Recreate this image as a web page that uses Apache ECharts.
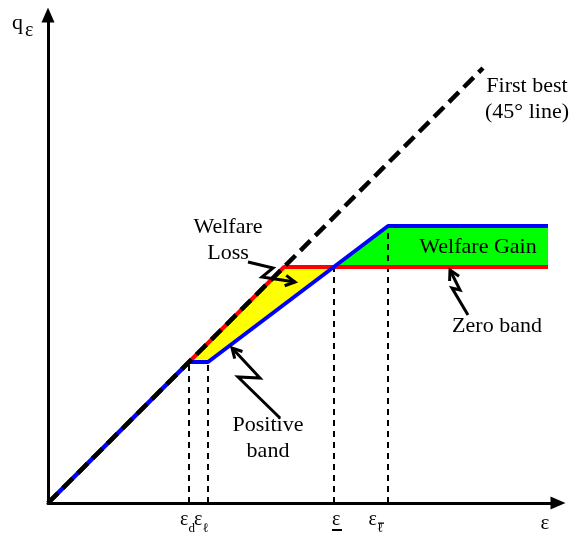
<!DOCTYPE html>
<html><head><meta charset="utf-8">
<script src="https://cdn.jsdelivr.net/npm/echarts@6/dist/echarts.min.js"></script>
<style>html,body{margin:0;padding:0;background:#fff}#c{width:570px;height:535px}</style>
</head><body><div id="c"></div>
<script>
// ---- data (arbitrary units of a conceptual diagram) ----
const tickValues = [141, 160, 286, 340];            // εd, εℓ, ε (underlined), εℓ̄
const tickSubscripts = ['d', 'ℓ', '', 'ℓ'];
const tickDecorations = ['', '', 'underline', 'overbar'];
const guideHeights = [141, 141, 236, 277];
const firstBest = [[0, 0], [435, 435]];
const zeroBand = [[0, 0], [236, 236], [500, 236]];
const positiveBand = [[0, 0], [141, 141], [160, 141], [340, 277], [500, 277]];
const welfareLoss = [[141, 141], [236, 236], [286, 236], [160, 141]];
const welfareGain = [[286, 236], [340, 277], [500, 277], [500, 236]];
const calloutLoss = [[200, 241], [225, 235], [214, 226], [247, 221]];
const calloutPositive = [[232, 85], [190, 126], [212, 125], [184, 155]];
const calloutZero = [[420, 188], [404, 215], [412, 213], [402, 233]];
const noteTexts = ['Welfare\nLoss', 'Welfare Gain', 'Zero band', 'Positive\nband', 'First best\n(45° line)'];
const noteAnchors = [[180, 263], [430, 256], [449, 177], [220, 64.5], [479, 403.5]];
const yTitle = ['q', 'ε'];

const FONT = "'Liberation Serif','Times New Roman',serif";

function polygonSeries(points, color) {
  return {
    type: 'custom', data: points, z: 1, silent: true, animation: false,
    renderItem(params, api) {
      if (params.dataIndex !== 0) return null;
      return { type: 'polygon', shape: { points: points.map(p => api.coord(p)) }, style: { fill: color } };
    }
  };
}
function calloutSeries(points) {
  return {
    type: 'custom', data: points, z: 6, silent: true, animation: false,
    renderItem(params, api) {
      if (params.dataIndex !== 0) return null;
      const px = points.map(p => api.coord(p));
      const tip = px[px.length - 1], prev = px[px.length - 2];
      const ang = Math.atan2(prev[1] - tip[1], prev[0] - tip[0]);
      const L = 11, a = 0.5;
      const arm1 = [tip[0] + L * Math.cos(ang + a), tip[1] + L * Math.sin(ang + a)];
      const arm2 = [tip[0] + L * Math.cos(ang - a), tip[1] + L * Math.sin(ang - a)];
      return {
        type: 'group', children: [
          { type: 'polyline', shape: { points: px }, style: { stroke: '#000', lineWidth: 3, fill: null, lineJoin: 'miter' } },
          { type: 'polyline', shape: { points: [arm1, tip, arm2] }, style: { stroke: '#000', lineWidth: 3, fill: null } }
        ]
      };
    }
  };
}
function txt(text, x, y, size) {
  return { type: 'text', style: { text, x, y, align: 'left', verticalAlign: 'middle', fontFamily: FONT, fontSize: size, fill: '#000' } };
}

const labelShift = [-9, -14, -2, -19.5];

const chart = echarts.init(document.getElementById('c'), null, { renderer: 'canvas' });
const option = {
  animation: false,
  backgroundColor: '#fff',
  grid: { left: 48, right: 12, top: 15, bottom: 32, outerBoundsMode: 'none', containLabel: false },
  xAxis: {
    type: 'value', min: 0, max: 510,
    name: 'ε', nameLocation: 'end', nameGap: -13,
    nameTextStyle: { fontFamily: FONT, fontSize: 21, color: '#000', align: 'center', verticalAlign: 'top', padding: [10, 0, 0, 0] },
    axisLine: { show: true, symbol: ['none', 'triangle'], symbolSize: [13, 15], lineStyle: { color: '#000', width: 3 } },
    axisTick: { show: false }, splitLine: { show: false }, axisLabel: { show: false }
  },
  yAxis: {
    type: 'value', min: 0, max: 488,
    axisLine: { show: true, symbol: ['none', 'triangle'], symbolSize: [13, 15], lineStyle: { color: '#000', width: 3 } },
    axisTick: { show: false }, splitLine: { show: false }, axisLabel: { show: false }
  },
  series: [
    polygonSeries(welfareLoss, '#FFFF00'),
    polygonSeries(welfareGain, '#00FF00'),
    {
      type: 'custom', z: 2, silent: true,
      data: tickValues.map((v, i) => [v, guideHeights[i]]),
      renderItem(params, api) {
        const p0 = api.coord([api.value(0), 0]);
        const p1 = api.coord([api.value(0), api.value(1)]);
        return { type: 'line', shape: { x1: p0[0], y1: p0[1], x2: p1[0], y2: p1[1] }, style: { stroke: '#000', lineWidth: 2, lineDash: [6, 5] } };
      }
    },
    { type: 'line', data: zeroBand, symbol: 'none', z: 3, lineStyle: { color: '#FF0000', width: 4 } },
    { type: 'line', data: positiveBand, symbol: 'none', z: 4, lineStyle: { color: '#0000FF', width: 4 } },
    { type: 'line', data: firstBest, symbol: 'none', z: 5, lineStyle: { color: '#000', width: 4.5, type: [14, 7] } },
    calloutSeries(calloutLoss),
    calloutSeries(calloutPositive),
    calloutSeries(calloutZero),
    {
      type: 'custom', z: 7, silent: true, data: noteAnchors,
      renderItem(params, api) {
        const p = api.coord([api.value(0), api.value(1)]);
        return { type: 'text', style: { text: noteTexts[params.dataIndex], x: p[0], y: p[1], align: 'center', verticalAlign: 'middle', fontFamily: FONT, fontSize: 22, lineHeight: 26, fill: '#000' } };
      }
    },
    {
      // tick labels under the horizontal axis
      type: 'custom', z: 7, silent: true, clip: false,
      data: tickValues.map(v => [v, 0]),
      renderItem(params, api) {
        const i = params.dataIndex;
        const p = api.coord([api.value(0), 0]);
        const x0 = p[0] + labelShift[i];
        const children = [txt('ε', x0, p[1] + 17, 20)];
        if (tickSubscripts[i]) children.push(txt(tickSubscripts[i], x0 + 8.5, p[1] + 25.5, 13));
        if (tickDecorations[i] === 'underline') children.push({ type: 'rect', shape: { x: x0, y: p[1] + 26, width: 10, height: 2 }, style: { fill: '#000' } });
        if (tickDecorations[i] === 'overbar') children.push({ type: 'rect', shape: { x: x0 + 9.5, y: p[1] + 19.5, width: 6, height: 1.3 }, style: { fill: '#000' } });
        return { type: 'group', children };
      }
    },
    {
      // vertical axis title q_ε at the top of the axis
      type: 'custom', z: 7, silent: true, clip: false,
      data: [[0, 488]],
      renderItem(params, api) {
        const p = api.coord([api.value(0), api.value(1)]);
        return { type: 'group', children: [txt(yTitle[0], p[0] - 36, p[1] + 8, 22), txt(yTitle[1], p[0] - 23, p[1] + 16, 20)] };
      }
    }
  ]
};
chart.setOption(option);
</script></body></html>
